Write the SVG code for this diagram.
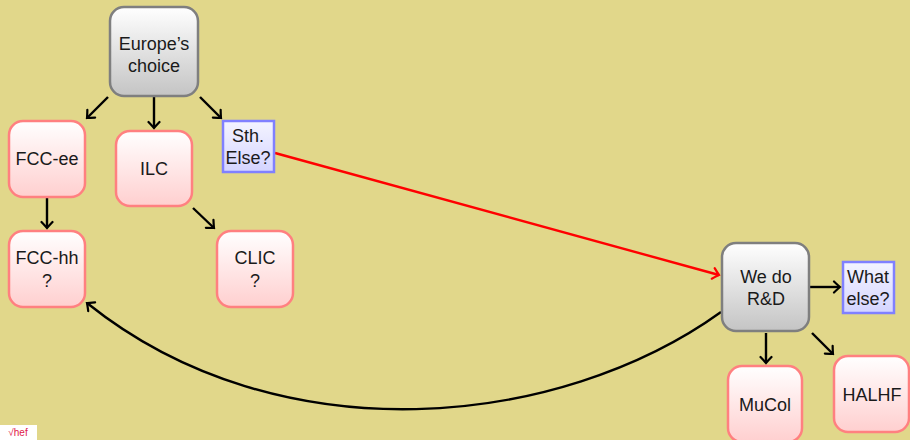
<svg xmlns="http://www.w3.org/2000/svg" width="910" height="440" viewBox="0 0 910 440">
<style>
text{font-family:"Liberation Sans","DejaVu Sans",sans-serif;font-size:18px;fill:#1a1a1a;text-anchor:middle}
.gray{fill:url(#gGray);stroke:#7f7f7f;stroke-width:2.5}
.pink{fill:url(#gPink);stroke:#ff8080;stroke-width:2.5}
.blue{fill:url(#gBlue);stroke:#8080ff;stroke-width:2.5}
.c{fill:none;stroke:#000;stroke-width:2.4}
.r{fill:none;stroke:#ff0000;stroke-width:2.4}
</style>
<defs>
<linearGradient id="gGray" x1="0" y1="0" x2="0" y2="1"><stop offset="0" stop-color="#ffffff"/><stop offset="1" stop-color="#c4c4c4"/></linearGradient>
<linearGradient id="gPink" x1="0" y1="0" x2="0" y2="1"><stop offset="0" stop-color="#ffffff"/><stop offset="1" stop-color="#ffcfcf"/></linearGradient>
<linearGradient id="gBlue" x1="0" y1="0" x2="0" y2="1"><stop offset="0" stop-color="#f4f4ff"/><stop offset="1" stop-color="#d4d4ff"/></linearGradient>
<marker id="ah" viewBox="-8 -7 10 14" markerWidth="10" markerHeight="14" refX="0" refY="0" orient="auto" markerUnits="userSpaceOnUse">
<path d="M-6,-5.5 Q-1.5,-1.2 0,0 Q-1.5,1.2 -6,5.5" fill="none" stroke="#000" stroke-width="2.2" stroke-linecap="round"/>
</marker>
<marker id="ahr" viewBox="-8 -7 10 14" markerWidth="10" markerHeight="14" refX="0" refY="0" orient="auto" markerUnits="userSpaceOnUse">
<path d="M-6,-5.5 Q-1.5,-1.2 0,0 Q-1.5,1.2 -6,5.5" fill="none" stroke="#ff0000" stroke-width="2.2" stroke-linecap="round"/>
</marker>
</defs>
<rect width="910" height="440" fill="#e1d78a"/>

<g id="connectors">
<line class="c" x1="108" y1="97" x2="87" y2="118" marker-end="url(#ah)"/>
<line class="c" x1="154" y1="97" x2="154" y2="128" marker-end="url(#ah)"/>
<line class="c" x1="200" y1="97" x2="221" y2="118" marker-end="url(#ah)"/>
<line class="c" x1="47" y1="198" x2="47" y2="228" marker-end="url(#ah)"/>
<line class="c" x1="193" y1="208" x2="214" y2="228" marker-end="url(#ah)"/>
<line class="r" x1="275" y1="153" x2="719" y2="275" marker-end="url(#ahr)"/>
<line class="c" x1="810" y1="287" x2="840" y2="287" marker-end="url(#ah)"/>
<line class="c" x1="766" y1="333" x2="766" y2="363" marker-end="url(#ah)"/>
<line class="c" x1="812" y1="333" x2="833" y2="354" marker-end="url(#ah)"/>
<path class="c" d="M721,312 C560,428 280,458 87,303" marker-end="url(#ah)"/>
</g>

<g id="europe"><rect class="gray" x="110" y="7" width="88" height="89" rx="14"/><text x="154" y="50">Europe’s</text><text x="154" y="72">choice</text></g>
<g id="fccee"><rect class="pink" x="9" y="121" width="76" height="76" rx="14"/><text x="47" y="165">FCC-ee</text></g>
<g id="ilc"><rect class="pink" x="116" y="131" width="76" height="75" rx="14"/><text x="154" y="175">ILC</text></g>
<g id="sth"><rect class="blue" x="223" y="121" width="51" height="51"/><text x="248" y="142">Sth.</text><text x="248" y="164">Else?</text></g>
<g id="fcchh"><rect class="pink" x="9" y="231" width="76" height="76" rx="14"/><text x="47" y="264">FCC-hh</text><text x="47" y="287">?</text></g>
<g id="clic"><rect class="pink" x="217" y="231" width="76" height="76" rx="14"/><text x="255" y="264">CLIC</text><text x="255" y="287">?</text></g>
<g id="rd"><rect class="gray" x="722" y="243" width="87" height="88" rx="14"/><text x="766" y="283">We do</text><text x="766" y="305">R&amp;D</text></g>
<g id="whatelse"><rect class="blue" x="843" y="262" width="51" height="51"/><text x="868" y="283">What</text><text x="868" y="305">else?</text></g>
<g id="mucol"><rect class="pink" x="728" y="366" width="74" height="76" rx="14"/><text x="765" y="411">MuCol</text></g>
<g id="halhf"><rect class="pink" x="834" y="356" width="75" height="76" rx="14"/><text x="872" y="401">HALHF</text></g>

<g id="logo"><rect x="0" y="425" width="37" height="15" fill="#ffffff"/><text x="18" y="436" style="fill:#e0204a;font-size:10px">√hef</text></g>
</svg>
